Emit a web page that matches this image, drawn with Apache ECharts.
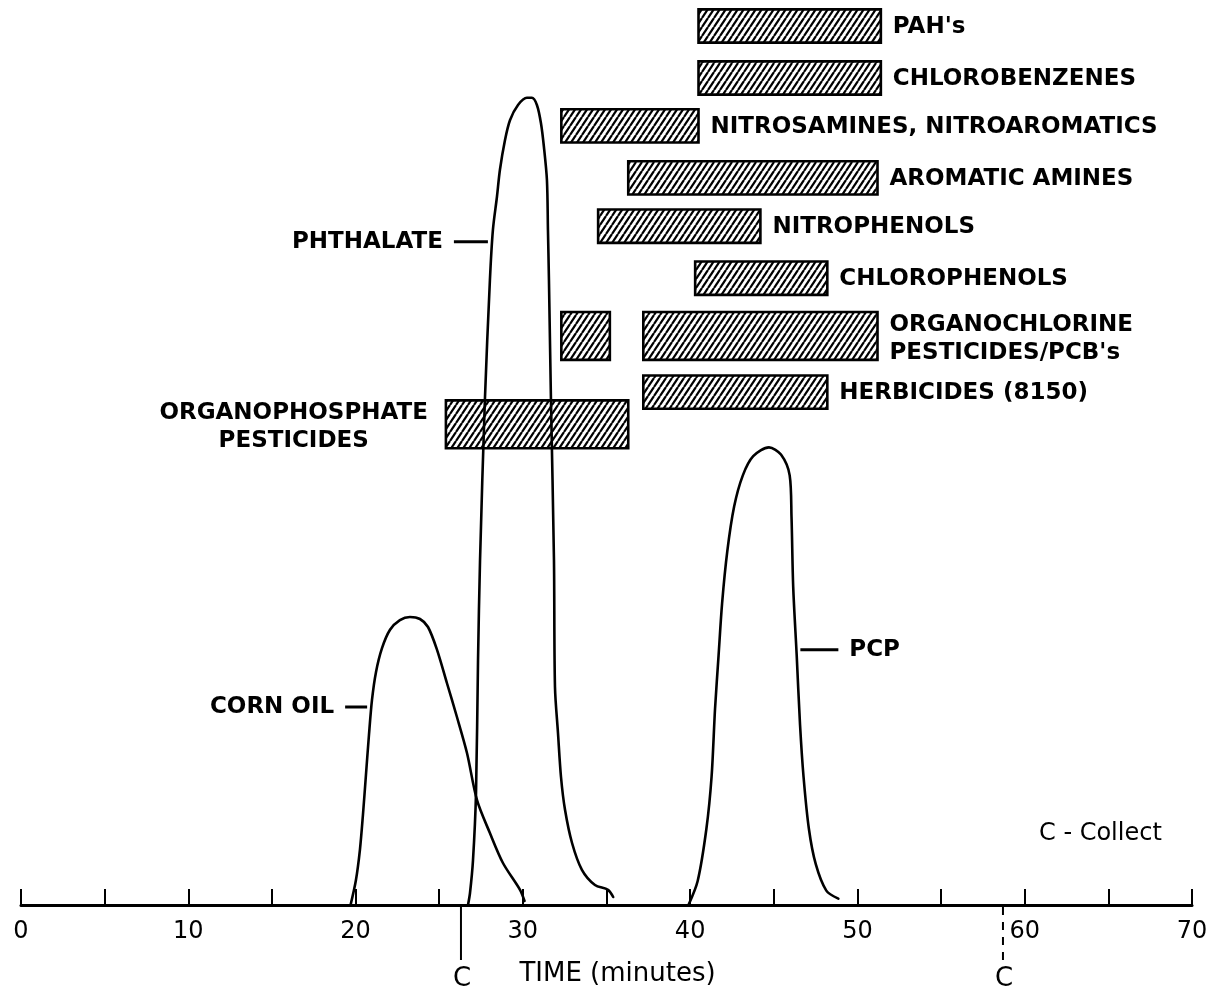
<!DOCTYPE html>
<html><head><meta charset="utf-8">
<script src="https://cdn.jsdelivr.net/npm/echarts@6/dist/echarts.min.js"></script>
<style>html,body{margin:0;padding:0;background:#fff}#c{width:1214px;height:995px}</style>
</head><body><div id="c"></div>
<script>
// ---------------- DATA ----------------
const timeTickLabels = [0, 10, 20, 30, 40, 50, 60, 70];

// chromatogram traces: [time (min), relative response]
const cornOil = [[19.7,0],[20.02,3.1],[20.26,6.9],[20.44,11.25],[20.62,16.25],[20.8,21.25],[20.98,25.6],[21.22,29.1],[21.58,32.1],[22.06,34.4],[22.65,35.6],[23.25,36],[23.85,35.75],[24.33,34.75],[24.87,31.9],[25.46,27.75],[26.06,23.5],[26.66,19],[27.26,13.1],[28.03,9],[28.81,5.25],[29.83,1.9],[30.1,0.5]];
const phthalate = [[26.72,0],[26.84,1.5],[27.02,5.6],[27.2,14],[27.32,30.6],[27.44,43.1],[27.73,63.1],[28.03,78.1],[28.21,84.4],[28.45,88.5],[28.63,91.9],[28.93,95.6],[29.23,98.1],[29.71,100],[30.24,100.9],[30.54,100.9],[30.84,100],[31.08,97.75],[31.26,94.75],[31.44,90.6],[31.5,84.4],[31.56,78.1],[31.68,63.1],[31.86,43.1],[31.92,27.25],[32.1,21.5],[32.28,16],[32.52,11.9],[32.94,7.75],[33.53,4.4],[34.31,2.5],[35.09,1.9],[35.4,1.0]];
const pcp = [[39.9,0],[40.45,3],[40.97,9.5],[41.28,16],[41.49,24.6],[41.7,31.2],[41.91,37.7],[42.22,44.2],[42.63,49.8],[43.15,53.7],[43.77,56.1],[44.71,57.2],[45.43,56.3],[45.95,53.7],[46.06,48.5],[46.16,39.8],[46.37,31.2],[46.57,22.5],[46.78,16],[47.1,9.5],[47.51,5.1],[48.14,1.8],[48.86,0.8]];

const peakNames = ['CORN OIL', 'PHTHALATE', 'PCP'];
const peakLabelAt = [[20.93, 24.75], [28.15, 82.9], [46.35, 31.9]];

// compound classes and their elution windows
const classNames = ["PAH's", 'CHLOROBENZENES', 'NITROSAMINES, NITROAROMATICS', 'AROMATIC AMINES', 'NITROPHENOLS', 'CHLOROPHENOLS', "ORGANOCHLORINE\nPESTICIDES/PCB's", 'HERBICIDES (8150)', 'ORGANOPHOSPHATE\nPESTICIDES'];
const classLevel = [0.5, 1.5, 2.42, 3.42, 4.35, 5.35, 6.46, 7.54, 8.16];
const segClass = [0, 1, 2, 3, 4, 5, 6, 6, 7, 8];
const segStart = [40.5, 40.5, 32.3, 36.3, 34.5, 40.3, 32.3, 37.2, 37.2, 25.4];
const segEnd   = [51.4, 51.4, 40.5, 51.2, 44.2, 48.2, 35.2, 51.2, 48.2, 36.3];

const collectTimes = [26.3, 58.7];

// ---------------- LAYOUT / STYLE ----------------
const FONT = '"DejaVu Sans", sans-serif';
const leftLabelled = new Set(['ORGANOPHOSPHATE\nPESTICIDES']);
const rightLabelledPeaks = new Set(['PCP']);
const leaderLen = { 'CORN OIL': 22, 'PHTHALATE': 34, 'PCP': 38 };

const pat = document.createElement('canvas');
pat.width = 6; pat.height = 9;
const pc = pat.getContext('2d');
pc.fillStyle = '#fff'; pc.fillRect(0, 0, 6, 9);
pc.strokeStyle = '#000'; pc.lineWidth = 2.2;
for (const dx of [-6, 0, 6]) { pc.beginPath(); pc.moveTo(dx, 9); pc.lineTo(dx + 6, 0); pc.stroke(); }

const mctx = document.createElement('canvas').getContext('2d');
mctx.font = 'bold 23px "DejaVu Sans"';
function blockWidth(t) { return Math.max(...t.split('\n').map(l => mctx.measureText(l).width)); }

// segment that carries the class label = the one ending latest
const labelSeg = {};
segClass.forEach((c, i) => { if (labelSeg[c] === undefined || segEnd[i] > segEnd[labelSeg[c]]) labelSeg[c] = i; });

const chart = echarts.init(document.getElementById('c'));

const lineStyle = { color: '#000', width: 2.6, join: 'round', cap: 'round' };
function trace(name, data) {
  return { name, type: 'line', data, xAxisIndex: 0, yAxisIndex: 0, showSymbol: false, smooth: 0.3, clip: false, lineStyle, z: 5 };
}

chart.setOption({
  animation: false,
  backgroundColor: '#fff',
  title: { text: 'C - Collect', left: 1039, top: 822, padding: 0, textStyle: { fontSize: 24, fontWeight: 'normal', fontFamily: FONT, color: '#000' } },
  grid: [
    { left: 21, right: 22, top: 73, bottom: 90 },
    { left: 21, right: 22, top: 0, height: 468 }
  ],
  xAxis: [
    { gridIndex: 0, type: 'value', min: 0, max: 70, interval: 5,
      axisLine: { show: true, onZero: false, lineStyle: { color: '#000', width: 3 } },
      axisTick: { show: true, inside: true, length: 16, lineStyle: { color: '#000', width: 2 } },
      axisLabel: { formatter: v => timeTickLabels.includes(v) ? String(v) : '', color: '#000', fontSize: 24, fontFamily: FONT, margin: 15 },
      splitLine: { show: false },
      name: 'TIME (minutes)', nameLocation: 'middle', nameGap: 56,
      nameTextStyle: { color: '#000', fontSize: 26, fontFamily: FONT, padding: [0, 0, 0, 22] } },
    { gridIndex: 1, type: 'value', min: 0, max: 70, show: false }
  ],
  yAxis: [
    { gridIndex: 0, type: 'value', min: 0, max: 104, show: false },
    { gridIndex: 1, type: 'value', min: 0, max: 9, inverse: true, show: false }
  ],
  series: [
    {
      type: 'custom', name: 'windows', xAxisIndex: 1, yAxisIndex: 1, z: 2,
      data: segClass.map((c, i) => [segStart[i], segEnd[i], classLevel[c], c, i]),
      encode: { x: [0, 1], y: 2 },
      renderItem(params, api) {
        const s = api.value(0), e = api.value(1), lv = api.value(2), c = api.value(3), i = api.value(4);
        const name = classNames[c];
        const tall = name.includes('\n');
        const h = api.size([0, tall ? 0.92 : 0.64])[1];
        const p0 = api.coord([s, lv]), p1 = api.coord([e, lv]);
        const children = [{
          type: 'rect',
          shape: { x: p0[0], y: p0[1] - h / 2, width: p1[0] - p0[0], height: h },
          style: { fill: { image: pat, repeat: 'repeat' }, stroke: '#000', lineWidth: 2.6 }
        }];
        if (labelSeg[c] === i) {
          const left = leftLabelled.has(name);
          const w = blockWidth(name);
          children.push({
            type: 'text',
            x: left ? p0[0] - 18 - w / 2 : p1[0] + 12,
            y: p0[1] + (tall ? 3 : 1),
            style: { text: name, fill: '#000', fontSize: 23, fontWeight: 'bold', fontFamily: FONT,
                     align: left ? 'center' : 'left', verticalAlign: 'middle', lineHeight: 28 }
          });
        }
        return { type: 'group', children };
      }
    },
    trace('CORN OIL', cornOil),
    trace('PHTHALATE', phthalate),
    trace('PCP', pcp),
    {
      type: 'custom', name: 'peak labels', xAxisIndex: 0, yAxisIndex: 0, z: 6,
      data: peakLabelAt.map((p, i) => [p[0], p[1], i]),
      renderItem(params, api) {
        const i = api.value(2);
        const name = peakNames[i];
        const pt = api.coord([api.value(0), api.value(1)]);
        const dir = rightLabelledPeaks.has(name) ? 1 : -1;
        const L = leaderLen[name];
        const a = pt[0] + dir * 4, b = a + dir * L;
        return { type: 'group', children: [
          { type: 'line', shape: { x1: a, y1: pt[1], x2: b, y2: pt[1] }, style: { stroke: '#000', lineWidth: 3 } },
          { type: 'text', x: b + dir * 11, y: pt[1],
            style: { text: name, fill: '#000', fontSize: 23, fontWeight: 'bold', fontFamily: FONT,
                     align: dir > 0 ? 'left' : 'right', verticalAlign: 'middle' } }
        ] };
      }
    },
    {
      type: 'custom', name: 'collect', xAxisIndex: 0, yAxisIndex: 0, z: 6,
      data: collectTimes.map((t, i) => [t, 0, i]),
      renderItem(params, api) {
        const i = api.value(2);
        const p = api.coord([api.value(0), 0]);
        return { type: 'group', children: [
          { type: 'line', shape: { x1: p[0], y1: p[1] + 2, x2: p[0], y2: p[1] + 55 },
            style: { stroke: '#000', lineWidth: 2, lineDash: i === 0 ? null : [8, 7] } },
          { type: 'text', x: p[0] + 1, y: p[1] + 74,
            style: { text: 'C', fill: '#000', fontSize: 26, fontFamily: FONT, align: 'center', verticalAlign: 'middle' } }
        ] };
      }
    }
  ]
});
</script>
</body></html>
